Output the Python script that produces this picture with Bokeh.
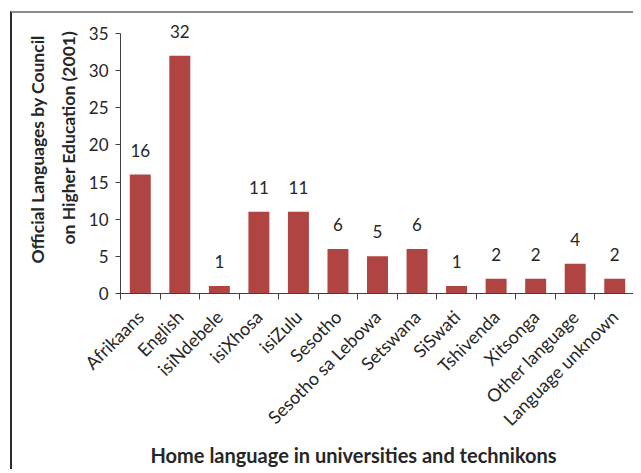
import math
from bokeh.plotting import figure
from bokeh.models import ColumnDataSource, Range1d, FixedTicker, LabelSet, Title
from bokeh.core.properties import value
from bokeh.embed import file_html
from bokeh.resources import INLINE

languages = ["Afrikaans", "English", "isiNdebele", "isiXhosa", "isiZulu", "Sesotho",
             "Sesotho sa Lebowa", "Setswana", "SiSwati", "Tshivenda", "Xitsonga",
             "Other language", "Language unknown"]
counts = [16, 32, 1, 11, 11, 6, 5, 6, 1, 2, 2, 4, 2]
y_ticks = [0, 5, 10, 15, 20, 25, 30, 35]
y_title_lines = ["Official Languages by Council", "on Higher Education (2001)"]
x_title = "Home language in universities and technikons"

n = len(languages)
positions = [i + 0.5 for i in range(n)]
boundaries = list(range(n + 1))

src = ColumnDataSource(dict(x=positions, top=counts, label=[str(c) for c in counts]))

FONT = "Lato"
TXT = "#262626"
AX = "#404040"
BAR = "#b04442"

# a little head-room above the top tick so the value labels are not clipped;
# the axis line itself stops at the top tick (bounds)
p = figure(width=623, height=458, x_range=Range1d(0, n), y_range=Range1d(0, 37),
           output_backend="svg", toolbar_location=None,
           min_border_left=108, min_border_right=1, min_border_top=5, min_border_bottom=178,
           styles={"border-left": "2px solid #2b2b2b", "border-top": "2px solid #8c8c8c",
                   "margin-left": "10px", "margin-top": "11px"})
p.outline_line_color = None
p.xgrid.visible = False
p.ygrid.visible = False
p.background_fill_color = "white"
p.border_fill_color = "white"

p.vbar(x="x", top="top", width=0.53, bottom=0, source=src, fill_color=BAR, line_color=None)

labels = LabelSet(x="x", y="top", text="label", source=src, y_offset=18,
                  text_align="center", text_baseline="bottom",
                  text_font=value(FONT), text_font_size="17px", text_color=TXT)
p.add_layout(labels)

xa = p.xaxis[0]
xa.ticker = FixedTicker(ticks=positions, minor_ticks=boundaries)
xa.major_label_overrides = {pos: name for pos, name in zip(positions, languages)}
xa.major_tick_line_color = None
xa.major_tick_in = 0
xa.major_tick_out = 0
xa.minor_tick_line_color = AX
xa.minor_tick_in = 0
xa.minor_tick_out = 6
xa.axis_line_color = AX
xa.axis_line_width = 1
xa.major_label_orientation = math.pi / 4
xa.major_label_standoff = 14
xa.major_label_text_font = FONT
xa.major_label_text_font_size = "18px"
xa.major_label_text_color = TXT

ya = p.yaxis[0]
ya.ticker = FixedTicker(ticks=y_ticks)
ya.bounds = (min(y_ticks), max(y_ticks))
ya.minor_tick_line_color = None
ya.major_tick_in = 0
ya.major_tick_out = 5
ya.major_tick_line_color = AX
ya.axis_line_color = AX
ya.major_label_standoff = 7
ya.major_label_text_font = FONT
ya.major_label_text_font_size = "17px"
ya.major_label_text_color = TXT

t_x = Title(text=x_title, align="left", offset=30, standoff=0, text_line_height=0.8,
            text_font=FONT, text_font_size="20px", text_font_style="bold", text_color=TXT)
p.add_layout(t_x, "below")

# second line sits nearer the axis, first line further out
t_y2 = Title(text=y_title_lines[1], align="left", offset=49, standoff=14,
             text_font=FONT, text_font_size="17.5px", text_font_style="bold", text_color=TXT)
p.add_layout(t_y2, "left")
t_y1 = Title(text=y_title_lines[0], align="left", offset=30, standoff=2,
             text_font=FONT, text_font_size="17.5px", text_font_style="bold", text_color=TXT)
p.add_layout(t_y1, "left")

open("out.html", "w").write(file_html(p, INLINE))
